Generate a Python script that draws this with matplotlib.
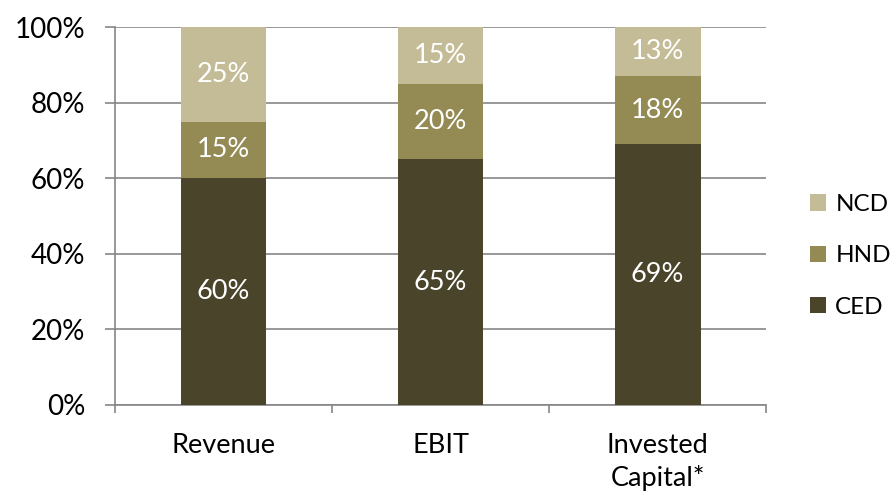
import matplotlib.pyplot as plt
import numpy as np

plt.rcParams['font.family'] = ['Lato', 'DejaVu Sans']

# Share of each division per metric (percent)
categories = ["Revenue", "EBIT", "Invested\nCapital*"]
ced = [60, 65, 69]
hnd = [15, 20, 18]
ncd = [25, 15, 13]

series = [("CED", ced, "#4a442a"), ("HND", hnd, "#948a54"), ("NCD", ncd, "#c4bc96")]

fig = plt.figure(figsize=(8.96, 4.96), dpi=100)
ax = fig.add_axes([0.1283, 0.1835, 0.7267, 0.762])

x = np.arange(len(categories))
bottom = np.zeros(len(categories))
handles = []
for name, vals, color in series:
    bars = ax.bar(x, vals, width=0.396, bottom=bottom, color=color, label=name, zorder=3)
    handles.append(bars)
    for xi, b, v in zip(x, bottom, vals):
        ax.text(xi, b + v / 2, f"{v}%", ha='center', va='center', color='white', fontsize=19.5, zorder=4)
    bottom += vals

ax.set_xlim(-0.5, 2.5)
ax.set_ylim(0, 100)
ax.set_yticks(np.arange(0, 101, 20))
ax.set_yticklabels([f"{v}%" for v in range(0, 101, 20)], fontsize=20)
ax.yaxis.grid(True, color='#868686', linewidth=1.2, zorder=0)

ax.set_xticks(x)
ax.set_xticklabels(categories, fontsize=19.5, linespacing=1.35, va='top')
ax.set_xticks([-0.5, 0.5, 1.5, 2.5], minor=True)
ax.tick_params(axis='x', which='major', length=0, pad=20)
ax.tick_params(axis='x', which='minor', length=6, width=1.2, color='#868686')
ax.tick_params(axis='y', length=7.5, width=1.2, color='#868686', pad=14)

for side in ['top', 'right']:
    ax.spines[side].set_visible(False)
for side in ['left', 'bottom']:
    ax.spines[side].set_color('#868686')
    ax.spines[side].set_linewidth(1.2)

leg = fig.legend(handles[::-1], [s[0] for s in series][::-1], loc='center left',
                 bbox_to_anchor=(0.893, 0.484), frameon=False, fontsize=17.5,
                 handlelength=0.65, handleheight=0.65, handletextpad=0.4,
                 labelspacing=1.25, borderaxespad=0)

fig.savefig("out.png", dpi=100)
